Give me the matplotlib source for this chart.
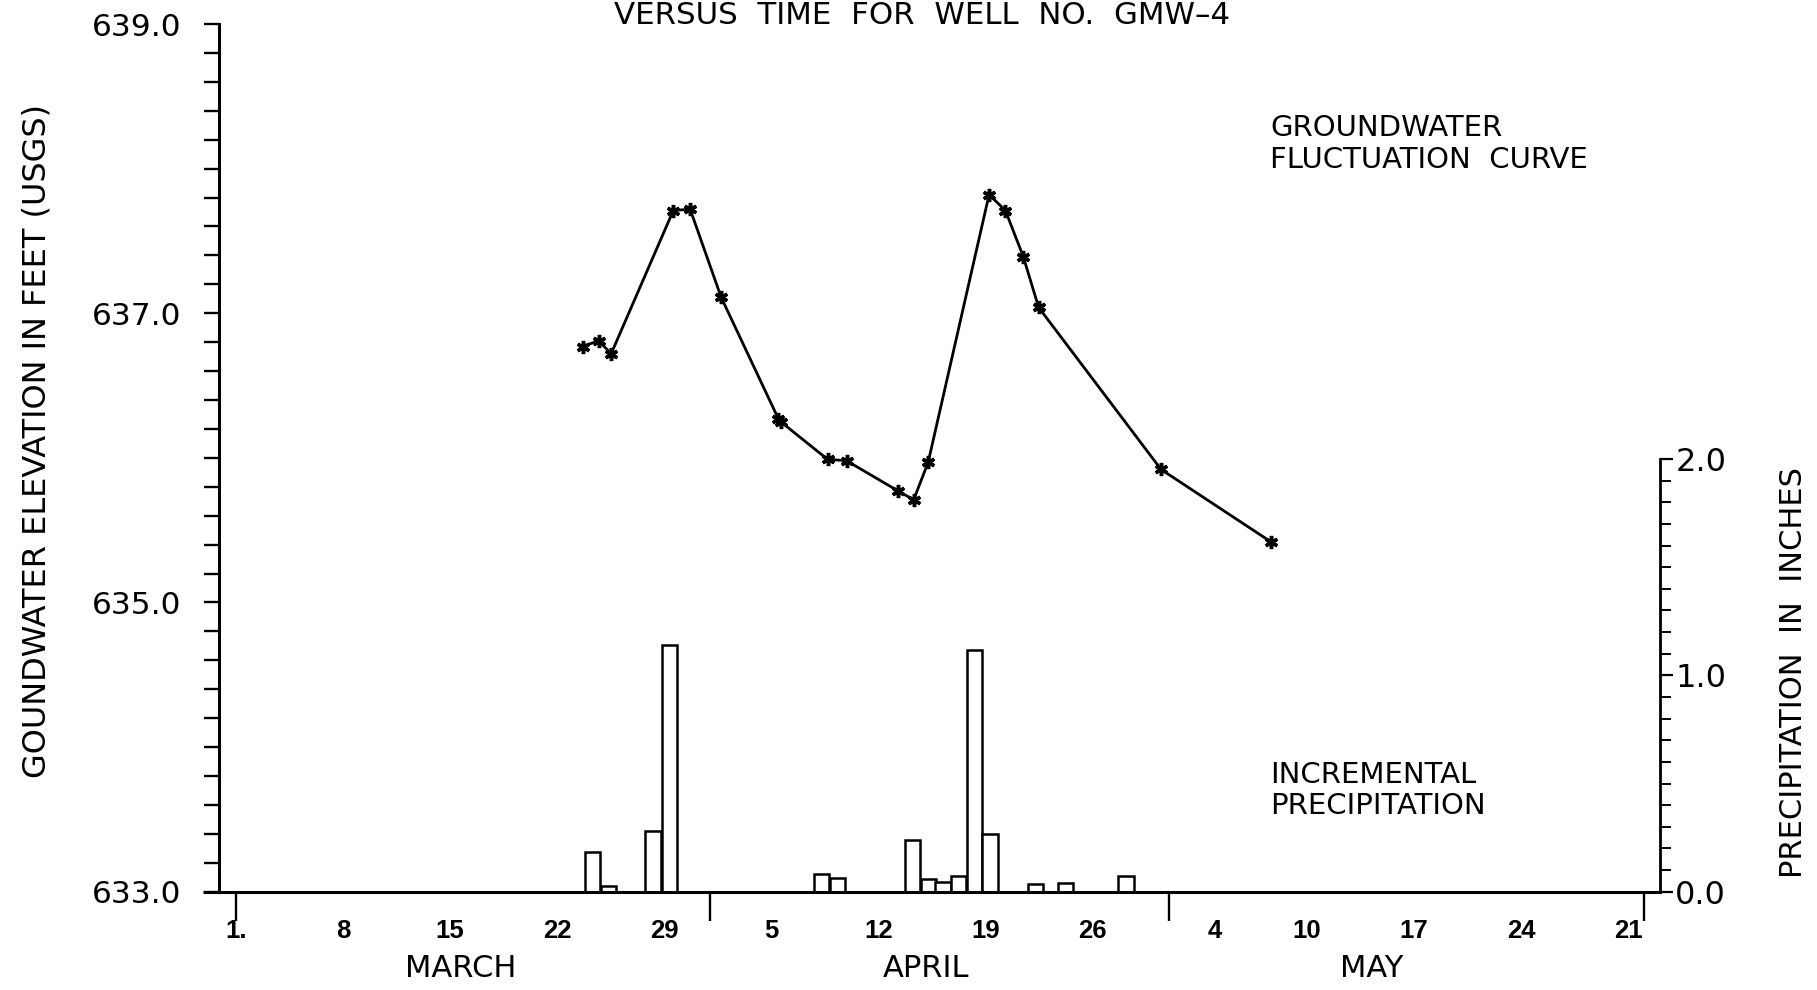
import matplotlib

matplotlib.use("Agg")
import matplotlib.pyplot as plt  # noqa: E402
import matplotlib.transforms as mtransforms  # noqa: E402
import numpy as np  # noqa: E402

# day index along the time axis: 1 = March 1
level_day = [23.65, 24.70, 25.52, 29.58, 30.68, 32.71, 36.45, 36.60, 39.66,
             40.91, 44.29, 45.29, 46.24, 50.22, 51.29, 52.46, 53.46, 61.46, 68.63]
level_ft = [636.77, 636.81, 636.72, 637.71, 637.72, 637.11, 636.27, 636.25, 635.99,
            635.98, 635.77, 635.71, 635.97, 637.82, 637.71, 637.39, 637.04, 635.92, 635.42]

rain_day = [24.31, 25.34, 28.25, 29.31, 39.28, 40.33, 45.22, 46.24, 47.21,
            48.20, 49.25, 50.29, 53.25, 55.20, 59.17]
rain_in = [0.185, 0.026, 0.282, 1.140, 0.082, 0.065, 0.239, 0.057, 0.043,
           0.074, 1.117, 0.265, 0.036, 0.042, 0.073]

day_ticks = [1, 8, 15, 22, 29, 36, 43, 50, 57, 65, 71, 78, 85, 92]
day_labels = ["1.", "8", "15", "22", "29", "5", "12", "19", "26",
              "4", "10", "17", "24", "21"]
month_starts = [1, 32, 62, 93]
months = ["MARCH", "APRIL", "MAY"]
month_mid = [15.7, 46.1, 75.2]

elev_ticks = [633.0, 635.0, 637.0, 639.0]
precip_ticks = [0.0, 1.0, 2.0]

plt.rcParams["font.family"] = ["DejaVu Sans"]

fig = plt.figure(figsize=(18.17, 9.90), dpi=100)
ax = fig.add_axes([0.12053, 0.09929, 0.79306, 0.87646])
ax2 = ax.twinx()

# precipitation bars on the right-hand scale
ax2.bar(rain_day, rain_in, width=1.0, facecolor="white", edgecolor="black",
        linewidth=1.8, zorder=2)
ax2.set_ylim(0, 4.011)
ax2.set_yticks(precip_ticks, [f"{v:.1f}" for v in precip_ticks])
ax2.set_yticks(np.arange(0, 2.01, 0.1), minor=True)
ax2.tick_params(axis="y", which="major", direction="out", length=9, width=1.6,
                labelsize=23, pad=2)
ax2.tick_params(axis="y", which="minor", direction="out", length=8, width=1.4)
for s in ("top", "left", "bottom"):
    ax2.spines[s].set_visible(False)
ax2.spines["right"].set_bounds(0, 2.0)
ax2.spines["right"].set_linewidth(2.0)

# groundwater curve
ax.plot(level_day, level_ft, color="black", linewidth=2.0, marker=(6, 2, 0),
        markersize=9.5, markeredgewidth=2.5, zorder=3)
ax.set_zorder(ax2.get_zorder() + 1)
ax.patch.set_visible(False)

ax.set_xlim(-0.111, 94.07)
ax.set_ylim(633.0, 639.0)
ax.set_yticks(elev_ticks, [f"{v:.1f}" for v in elev_ticks])
ax.set_yticks(np.arange(633.0, 639.01, 0.2), minor=True)
ax.tick_params(axis="y", which="both", direction="out", length=11, width=1.7,
               labelsize=22.5, pad=16)

ax.xaxis.remove_overlapping_locs = False
ax.set_xticks(month_starts, [""] * len(month_starts))
ax.set_xticks(day_ticks, day_labels, minor=True)
ax.tick_params(axis="x", which="major", direction="out", length=21, width=1.7)
ax.tick_params(axis="x", which="minor", length=0, pad=20, labelsize=18.5)
for lab in ax.get_xticklabels(minor=True):
    lab.set_family(["Liberation Sans Narrow", "Liberation Sans", "DejaVu Sans"])
    lab.set_fontweight("bold")

for s in ("top", "right"):
    ax.spines[s].set_visible(False)
ax.spines["left"].set_linewidth(2.2)
ax.spines["bottom"].set_linewidth(2.2)
# baseline runs a little past the left axis
ax.plot([-0.011, 0], [0, 0], transform=ax.transAxes, color="black",
        linewidth=2.2, clip_on=False, solid_capstyle="butt")

trans = mtransforms.blended_transform_factory(ax.transData, ax.transAxes)
for name, mid in zip(months, month_mid):
    ax.text(mid, -0.088, name, transform=trans, ha="center", va="center",
            fontsize=22)

ax.text(68.6, 638.17, "GROUNDWATER\nFLUCTUATION  CURVE", ha="left",
        va="center", fontsize=21, linespacing=1.15)
ax.text(68.6, 633.70, "INCREMENTAL\nPRECIPITATION", ha="left",
        va="center", fontsize=21, linespacing=1.15)

fig.text(0.5077, 1 - 15 / 990, "VERSUS  TIME  FOR  WELL  NO.  GMW\u20134",
         ha="center", va="center", fontsize=22.2)
fig.text(37 / 1817, 1 - 441.5 / 990, "GOUNDWATER ELEVATION IN FEET (USGS)",
         rotation=90, ha="center", va="center", fontsize=23)
fig.text(1793 / 1817, 1 - 673 / 990, "PRECIPITATION  IN  INCHES",
         rotation=90, ha="center", va="center", fontsize=22)

fig.savefig("out.png", dpi=100)
